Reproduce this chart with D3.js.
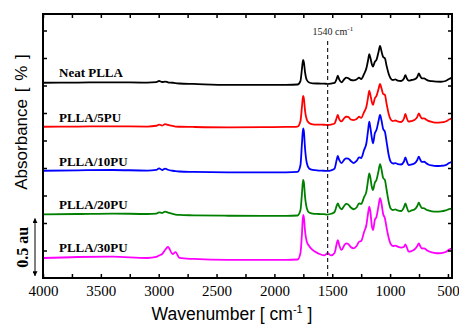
<!DOCTYPE html>
<html>
<head>
<meta charset="utf-8">
<script src="https://cdn.jsdelivr.net/npm/d3@7"></script>
<style>
  html, body { margin: 0; padding: 0; background: #fff; }
  svg { display: block; }
</style>
</head>
<body>
<svg id="chart" width="459" height="326"></svg>
<script>
// Wavenumbers (cm-1), shared by all spectra
const wavenumbers = [4000, 3700, 3400, 3100, 3020, 2997, 2970, 2945, 2920, 2880, 2855, 2820, 2700, 2400, 2100, 1900,
  1800, 1775, 1762, 1752, 1745, 1735, 1720, 1700, 1670, 1620, 1570, 1540, 1510, 1480, 1462, 1452, 1440, 1420,
  1395, 1380, 1362, 1340, 1315, 1290, 1268, 1250, 1225, 1205, 1190, 1180, 1170, 1158, 1148, 1132, 1118, 1100,
  1087, 1075, 1060, 1045, 1030, 1012, 995, 975, 955, 935, 905, 880, 868, 855, 840, 815, 790, 765, 752, 740,
  725, 705, 690, 670, 640, 600, 560, 520, 490, 465];

// Absorbance (au, stacked as in the figure)
const neatPLLA = [1.775, 1.777, 1.779, 1.776, 1.780, 1.791, 1.782, 1.786, 1.779, 1.775, 1.771, 1.768, 1.764, 1.755, 1.755, 1.756,
  1.759, 1.790, 1.900, 1.982, 1.960, 1.870, 1.800, 1.777, 1.770, 1.768, 1.767, 1.765, 1.768, 1.773, 1.809, 1.839, 1.805, 1.779,
  1.809, 1.821, 1.818, 1.800, 1.797, 1.805, 1.821, 1.809, 1.855, 1.906, 1.982, 2.036, 2.000, 1.945, 1.921, 1.966, 1.982, 2.055,
  2.109, 2.064, 2.009, 1.997, 1.927, 1.855, 1.814, 1.800, 1.805, 1.795, 1.791, 1.814, 1.845, 1.814, 1.794, 1.800, 1.805, 1.827, 1.861, 1.836,
  1.814, 1.815, 1.805, 1.795, 1.789, 1.785, 1.784, 1.791, 1.809, 1.821];

const plla5PU = [1.375, 1.377, 1.379, 1.377, 1.384, 1.395, 1.386, 1.398, 1.391, 1.382, 1.377, 1.375, 1.373, 1.370, 1.371, 1.373,
  1.377, 1.425, 1.555, 1.655, 1.630, 1.520, 1.440, 1.409, 1.397, 1.394, 1.393, 1.391, 1.395, 1.405, 1.455, 1.482, 1.445, 1.423,
  1.455, 1.466, 1.464, 1.441, 1.436, 1.445, 1.466, 1.455, 1.509, 1.557, 1.645, 1.703, 1.664, 1.600, 1.573, 1.634, 1.655, 1.718,
  1.764, 1.727, 1.673, 1.664, 1.582, 1.491, 1.441, 1.427, 1.432, 1.423, 1.418, 1.450, 1.491, 1.450, 1.421, 1.427, 1.436, 1.464, 1.497, 1.473,
  1.450, 1.452, 1.441, 1.429, 1.420, 1.412, 1.414, 1.423, 1.441, 1.452];

const plla10PU = [0.975, 0.979, 0.982, 0.977, 0.982, 0.997, 0.982, 0.995, 0.984, 0.975, 0.971, 0.968, 0.965, 0.961, 0.960, 0.961,
  0.965, 1.025, 1.220, 1.361, 1.330, 1.175, 1.045, 0.995, 0.982, 0.977, 0.975, 0.973, 0.979, 0.995, 1.073, 1.109, 1.073, 1.045,
  1.077, 1.088, 1.086, 1.064, 1.045, 1.064, 1.097, 1.091, 1.164, 1.225, 1.345, 1.421, 1.364, 1.273, 1.225, 1.315, 1.345, 1.427,
  1.482, 1.436, 1.355, 1.330, 1.236, 1.118, 1.057, 1.041, 1.045, 1.036, 1.032, 1.059, 1.097, 1.059, 1.027, 1.032, 1.041, 1.073, 1.103, 1.077,
  1.055, 1.057, 1.045, 1.032, 1.023, 1.018, 1.020, 1.027, 1.045, 1.057];

const plla20PU = [0.579, 0.582, 0.586, 0.582, 0.586, 0.597, 0.591, 0.603, 0.595, 0.584, 0.577, 0.573, 0.570, 0.566, 0.564, 0.564,
  0.568, 0.615, 0.765, 0.891, 0.866, 0.737, 0.635, 0.595, 0.586, 0.582, 0.580, 0.577, 0.584, 0.600, 0.655, 0.679, 0.650, 0.625,
  0.659, 0.673, 0.668, 0.641, 0.625, 0.641, 0.679, 0.673, 0.736, 0.785, 0.891, 0.952, 0.909, 0.827, 0.800, 0.866, 0.891, 0.973,
  1.036, 0.991, 0.909, 0.891, 0.800, 0.691, 0.632, 0.618, 0.623, 0.614, 0.609, 0.645, 0.679, 0.641, 0.603, 0.614, 0.623, 0.655, 0.685, 0.659,
  0.636, 0.634, 0.623, 0.614, 0.606, 0.603, 0.605, 0.614, 0.627, 0.634];

const plla30PU = [0.182, 0.191, 0.194, 0.182, 0.191, 0.205, 0.218, 0.255, 0.282, 0.218, 0.236, 0.182, 0.173, 0.164, 0.164, 0.164,
  0.168, 0.225, 0.400, 0.573, 0.548, 0.425, 0.330, 0.291, 0.255, 0.223, 0.205, 0.225, 0.205, 0.227, 0.309, 0.345, 0.300, 0.255,
  0.300, 0.315, 0.309, 0.282, 0.270, 0.291, 0.330, 0.336, 0.418, 0.482, 0.591, 0.648, 0.600, 0.473, 0.436, 0.527, 0.555, 0.655,
  0.727, 0.682, 0.582, 0.543, 0.455, 0.364, 0.309, 0.291, 0.295, 0.286, 0.277, 0.282, 0.306, 0.277, 0.239, 0.245, 0.259, 0.291, 0.315, 0.291,
  0.268, 0.270, 0.259, 0.245, 0.232, 0.225, 0.227, 0.236, 0.259, 0.270];

const seriesNames = ['Neat PLLA', 'PLLA/5PU', 'PLLA/10PU', 'PLLA/20PU', 'PLLA/30PU'];
const seriesValues = [neatPLLA, plla5PU, plla10PU, plla20PU, plla30PU];
const seriesColors = ['#000000', '#ff0000', '#0000ff', '#008000', '#ff00ff'];
// label baseline level for each spectrum (au)
const labelLevels = [1.83, 1.42, 1.02, 0.63, 0.235];

const xTicks = d3.range(500, 4001, 250);
const yTicks = d3.range(0.25, 2.4, 0.25);
const markerWavenumber = 1540;
const scaleBar = [0.02, 0.54];

const svg = d3.select('#chart');
const margin = { left: 43, right: 452, top: 14, bottom: 278 };

const x = d3.scaleLinear().domain([4000, 465]).range([margin.left, margin.right]);
const y = d3.scaleLinear().domain([0, 2.4]).range([margin.bottom, margin.top]);

const serif = '"Liberation Serif", "Times New Roman", serif';
const sans = '"Liberation Sans", Arial, sans-serif';

// Spectra
const line = d3.line()
  .x((d, i) => x(wavenumbers[i]))
  .y(d => y(d))
  .curve(d3.curveMonotoneX);

svg.append('g')
  .selectAll('path')
  .data(seriesValues)
  .enter()
  .append('path')
  .attr('d', d => line(d))
  .attr('fill', 'none')
  .attr('stroke', (d, i) => seriesColors[i])
  .attr('stroke-width', 1.8)
  .attr('stroke-linejoin', 'round');

// 1540 marker
svg.append('line')
  .attr('x1', x(markerWavenumber)).attr('x2', x(markerWavenumber))
  .attr('y1', 41).attr('y2', margin.bottom - 2)
  .attr('stroke', '#222')
  .attr('stroke-width', 1.2)
  .attr('stroke-dasharray', '4,3');

const mark = svg.append('text')
  .attr('x', x(markerWavenumber) - 15)
  .attr('y', 35)
  .style('font-family', serif)
  .style('font-size', '10px')
  .style('fill', '#222');
mark.append('tspan').text(markerWavenumber + ' cm');
mark.append('tspan').attr('dy', -4).style('font-size', '7px').text('-1');

// Series labels
svg.append('g')
  .selectAll('text')
  .data(seriesNames)
  .enter()
  .append('text')
  .attr('x', 59)
  .attr('y', (d, i) => y(labelLevels[i]))
  .style('font-family', serif)
  .style('font-size', '13px')
  .style('font-weight', 'bold')
  .text(d => d);

// Axes (ticks pointing inward)
const fmt = d => (d % 500 === 0 ? d : '');

const xAxis = svg.append('g')
  .attr('transform', `translate(0,${margin.bottom})`)
  .call(d3.axisBottom(x).tickValues(xTicks).tickSize(-4).tickPadding(7).tickFormat(fmt));
xAxis.selectAll('text')
  .style('font-family', serif)
  .style('font-size', '15px')
  .style('fill', '#000');

svg.append('g')
  .attr('transform', `translate(0,${margin.top})`)
  .call(d3.axisTop(x).tickValues(xTicks).tickSize(-4).tickFormat(''));

svg.append('g')
  .attr('transform', `translate(${margin.left},0)`)
  .call(d3.axisLeft(y).tickValues(yTicks).tickSize(-4).tickFormat(''));

svg.append('g')
  .attr('transform', `translate(${margin.right},0)`)
  .call(d3.axisRight(y).tickValues(yTicks).tickSize(-4).tickFormat(''));

svg.selectAll('.domain').remove();
svg.selectAll('.tick line').attr('stroke', '#000').attr('stroke-width', 1.5);

// Frame
svg.append('rect')
  .attr('x', margin.left).attr('y', margin.top)
  .attr('width', margin.right - margin.left).attr('height', margin.bottom - margin.top)
  .attr('fill', 'none')
  .attr('stroke', '#000')
  .attr('stroke-width', 2);

// Scale bar
const defs = svg.append('defs');
defs.append('marker')
  .attr('id', 'arrow')
  .attr('viewBox', '0 0 10 10')
  .attr('refX', 9).attr('refY', 5)
  .attr('markerWidth', 5).attr('markerHeight', 5)
  .attr('orient', 'auto-start-reverse')
  .append('path')
  .attr('d', 'M0,0 L10,5 L0,10 z')
  .attr('fill', '#000');

svg.append('line')
  .attr('x1', 35).attr('x2', 35)
  .attr('y1', y(scaleBar[0])).attr('y2', y(scaleBar[1]))
  .attr('stroke', '#000')
  .attr('stroke-width', 1)
  .attr('marker-start', 'url(#arrow)')
  .attr('marker-end', 'url(#arrow)');

svg.append('text')
  .attr('transform', `translate(28,${y((scaleBar[0] + scaleBar[1]) / 2)}) rotate(-90)`)
  .attr('text-anchor', 'middle')
  .style('font-family', serif)
  .style('font-size', '16px')
  .style('font-weight', 'bold')
  .text('0.5 au');

// Axis titles
svg.append('text')
  .attr('transform', `translate(27,122) rotate(-90)`)
  .attr('text-anchor', 'middle')
  .style('font-family', sans)
  .style('font-size', '17px')
  .style('word-spacing', '2px')
  .text('Absorbance [ % ]');

const xt = svg.append('text')
  .attr('x', 232)
  .attr('y', 320)
  .attr('text-anchor', 'middle')
  .style('font-family', sans)
  .style('font-size', '17.5px');
xt.append('tspan').text('Wavenumber [ cm');
xt.append('tspan').attr('dy', -7).style('font-size', '11px').text('-1');
xt.append('tspan').attr('dy', 7).text(' ]');
</script>
</body>
</html>
